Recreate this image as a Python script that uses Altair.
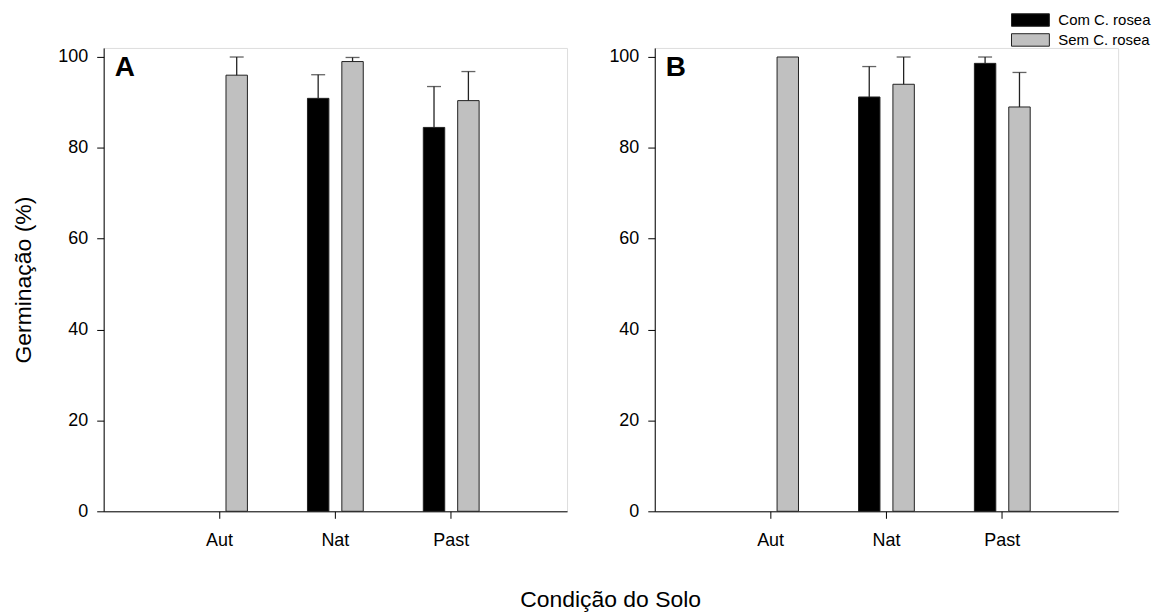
import altair as alt
import pandas as pd

categories = ["Aut", "Nat", "Past"]
groups = ["Com C. rosea", "Sem C. rosea"]
group_colors = ["#000000", "#c0c0c0"]

# Panel A
a_cat = ["Aut", "Nat", "Nat", "Past", "Past"]
a_grp = ["Sem C. rosea", "Com C. rosea", "Sem C. rosea", "Com C. rosea", "Sem C. rosea"]
a_mean = [96.0, 90.9, 99.0, 84.5, 90.4]
a_upper = [100.0, 96.1, 99.9, 93.5, 96.8]

# Panel B
b_cat = ["Aut", "Nat", "Nat", "Past", "Past"]
b_grp = ["Sem C. rosea", "Com C. rosea", "Sem C. rosea", "Com C. rosea", "Sem C. rosea"]
b_mean = [100.0, 91.2, 94.0, 98.6, 89.0]
b_upper = [None, 97.9, 100.0, 100.0, 96.6]

y_ticks = [0, 20, 40, 60, 80, 100]
FONT = "Liberation Sans"


def panel(cat, grp, mean, upper, letter, show_title):
    df = pd.DataFrame({"cat": cat, "grp": grp, "mean": mean, "upper": upper})
    x_enc = alt.X(
        "cat:N",
        scale=alt.Scale(domain=categories, paddingInner=0, paddingOuter=0.5),
        axis=alt.Axis(title=None, labelAngle=0, labelFontSize=18, labelPadding=13,
                      tickSize=7, labelColor="black", tickColor="black",
                      domainColor="black", labelFont=FONT),
    )
    xo_enc = alt.XOffset(
        "grp:N", scale=alt.Scale(domain=groups, paddingInner=0.377, paddingOuter=0.873)
    )
    y_scale = alt.Scale(domain=[0, 102], nice=False)
    y_axis = alt.Axis(
        title="Germinação (%)" if show_title else None,
        values=y_ticks, grid=False, labelFontSize=18, labelPadding=9, tickSize=7,
        titleFontSize=23, titleFontWeight="normal", titlePadding=22, titleFont=FONT,
        labelFont=FONT, labelColor="black", tickColor="black", domainColor="black",
        titleColor="black",
    )
    base = alt.Chart(df).encode(x=x_enc, xOffset=xo_enc)
    bars = base.mark_bar(stroke="#222222", strokeWidth=1).encode(
        y=alt.Y("mean:Q", scale=y_scale, axis=y_axis),
        color=alt.Color(
            "grp:N",
            scale=alt.Scale(domain=groups, range=group_colors),
            legend=alt.Legend(
                title=None, orient="none", legendX=920, legendY=-38,
                symbolType="M-2,-0.66H2V0.66H-2Z", symbolSize=361,
                symbolStrokeColor="#222222", symbolStrokeWidth=1,
                labelFontSize=15, labelFont=FONT, labelColor="black",
                labelOffset=18, rowPadding=1,
            ),
        ),
    )
    rules = base.transform_filter("isValid(datum.upper)").mark_rule(
        color="#222222", strokeWidth=1.3
    ).encode(y=alt.Y("mean:Q", scale=y_scale), y2="upper:Q")
    caps = base.transform_filter("isValid(datum.upper)").mark_tick(
        color="#222222", size=14, thickness=1.3
    ).encode(y=alt.Y("upper:Q", scale=y_scale))
    label = alt.Chart(pd.DataFrame({"t": [letter]})).mark_text(
        fontSize=28, fontWeight="bold", font=FONT, align="left", baseline="alphabetic",
        color="black",
    ).encode(x=alt.value(11), y=alt.value(28), text="t:N")
    return alt.layer(bars, rules, caps, label).properties(width=465, height=465)


pa = panel(a_cat, a_grp, a_mean, a_upper, "A", True)
pb = panel(b_cat, b_grp, b_mean, b_upper, "B", False)

chart = (
    alt.hconcat(pa, pb, spacing=40)
    .properties(
        title=alt.TitleParams(
            "Condição do Solo", orient="bottom", anchor="middle", fontSize=23,
            fontWeight="normal", font=FONT, color="black", offset=40, dx=29,
        ),
        padding={"left": 4, "top": 1, "right": 5, "bottom": 5},
    )
    .configure_view(stroke=None)
    .configure(background="white")
)

chart.save("out.html", embed_options={"renderer": "svg", "actions": False})
